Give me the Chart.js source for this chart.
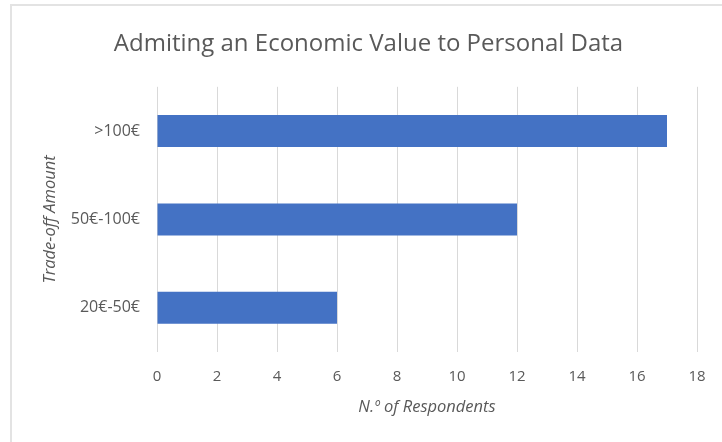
<!DOCTYPE html>
<html>
<head>
<meta charset="utf-8">
<title>Admiting an Economic Value to Personal Data</title>
<script src="https://cdn.jsdelivr.net/npm/chart.js@4.4.1/dist/chart.umd.min.js"></script>
<style>
  html, body { margin: 0; padding: 0; background: #fff; }
  #wrap { position: relative; width: 722px; height: 442px; overflow: hidden; }
  /* light frame around the chart object */
  #frame {
    position: absolute; left: 10px; top: 4px; right: -4px; bottom: -4px;
    border-top: 2px solid #e3e3e3; border-left: 2px solid #e3e3e3;
  }
  canvas { position: absolute; left: 0; top: 0; }
</style>
</head>
<body>
<div id="wrap">
  <div id="frame"></div>
  <canvas id="c-tradeoff" width="722" height="442"></canvas>
</div>
<script>
// ── DATA ───────────────────────────────────────────────────────
const amounts     = ['>100€', '50€-100€', '20€-50€'];
const respondents = [17, 12, 6];
const xTicks      = [0, 2, 4, 6, 8, 10, 12, 14, 16, 18];

// ── SHARED STYLE ──────────────────────────────────────────────
const textColor = '#595959';
const gridColor = '#d9d9d9';
const barColor  = '#4472c4';
const fontFam   = "'Open Sans', 'Liberation Sans', sans-serif";

new Chart(document.getElementById('c-tradeoff'), {
  type: 'bar',
  data: {
    labels: amounts,
    datasets: [{
      data: respondents,
      backgroundColor: barColor,
      borderWidth: 0,
      categoryPercentage: 1,
      barPercentage: 0.362
    }]
  },
  options: {
    responsive: false,
    animation: false,
    indexAxis: 'y',
    // left/right padding keeps the title centred over the plot + labels
    layout: { padding: { left: 40, right: 25, top: 0, bottom: 0 } },
    plugins: {
      legend: { display: false },
      tooltip: { enabled: false },
      title: {
        display: true,
        text: 'Admiting an Economic Value to Personal Data',
        color: textColor,
        font: { family: fontFam, size: 24, weight: 'normal' },
        padding: { top: 30, bottom: 28 }
      }
    },
    scales: {
      x: {
        min: 0, max: 18,
        afterBuildTicks: s => { s.ticks = xTicks.map(v => ({ value: v })); },
        afterFit: s => { s.height = 90; },
        ticks: { color: textColor, font: { family: fontFam, size: 15 }, padding: 16 },
        grid: { color: gridColor, lineWidth: 1, drawTicks: false },
        border: { display: false },
        title: {
          display: true,
          text: 'N.º of Respondents',
          color: textColor,
          font: { family: fontFam, size: 16.5, style: 'italic' },
          padding: { top: 0, bottom: 25 }
        }
      },
      y: {
        afterFit: s => { s.width = 117; },
        ticks: { color: textColor, font: { family: fontFam, size: 16 }, padding: 17 },
        grid: { display: false, drawTicks: false },
        border: { display: false },
        title: {
          display: true,
          text: 'Trade-off Amount',
          color: textColor,
          font: { family: fontFam, size: 16.5, style: 'italic' },
          padding: { top: 0, bottom: 0 }
        }
      }
    }
  }
});
</script>
</body>
</html>
